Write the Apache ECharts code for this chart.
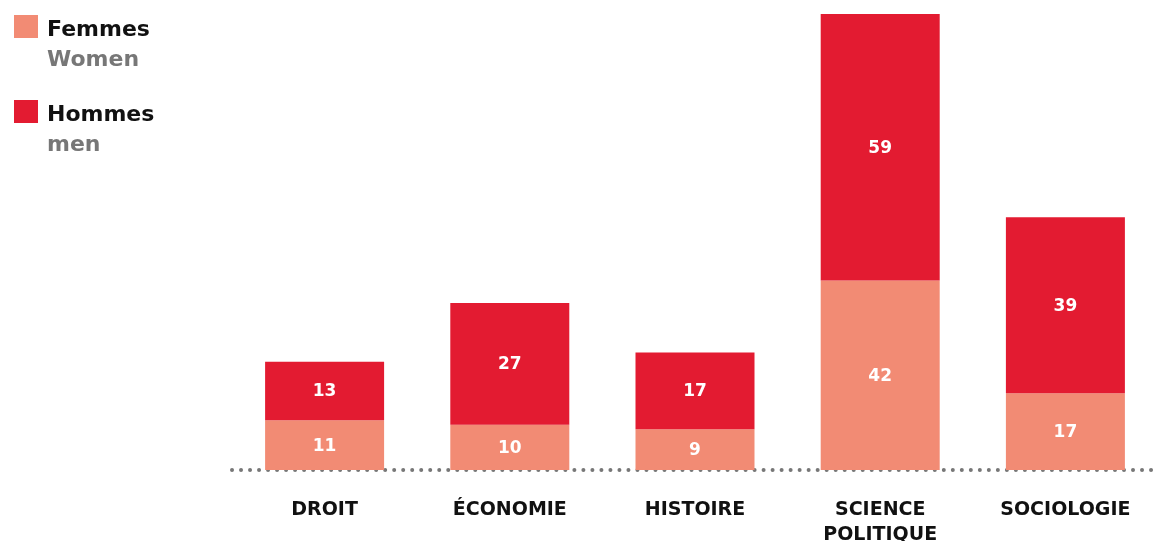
<!DOCTYPE html>
<html>
<head>
<meta charset="utf-8">
<script src="https://cdn.jsdelivr.net/npm/echarts@6/dist/echarts.min.js"></script>
<style>
  html, body { margin: 0; padding: 0; background: #fff; }
  #BarChartDom { width: 1154px; height: 541px; }
</style>
</head>
<body>
<div id="BarChartDom"></div>
<script>
const categories = ['DROIT', 'ÉCONOMIE', 'HISTOIRE', 'SCIENCE\nPOLITIQUE', 'SOCIOLOGIE'];
const femmes = [11, 10, 9, 42, 17];
const hommes = [13, 27, 17, 59, 39];
const legendNames = ['Femmes', 'Hommes'];
const legendSubtitles = { Femmes: 'Women', Hommes: 'men' };

const font = '"DejaVu Sans", sans-serif';
const barLabel = {
  show: true,
  position: 'inside',
  offset: [0, 1],
  color: '#fff',
  fontFamily: font,
  fontWeight: 'bold',
  fontSize: 17
};

const option = {
  animation: false,
  legend: {
    orient: 'vertical',
    left: 9,
    top: -13.5,
    itemWidth: 24,
    itemHeight: 23,
    itemGap: 5,
    icon: 'rect',
    data: legendNames,
    formatter: (name) => '{e| }\n{a|' + name + '}\n{b|' + legendSubtitles[name] + '}',
    textStyle: {
      rich: {
        e: { lineHeight: 38, fontSize: 10 },
        a: { fontFamily: font, fontWeight: 'bold', fontSize: 22, color: '#111', lineHeight: 30, padding: [0, 0, 0, 4] },
        b: { fontFamily: font, fontWeight: 'bold', fontSize: 22, color: '#777', lineHeight: 30, padding: [0, 0, 0, 4] }
      }
    }
  },
  grid: {
    left: 232,
    right: -4,
    top: 14,
    bottom: 71,
    outerBoundsMode: 'none'
  },
  xAxis: {
    type: 'category',
    data: categories,
    axisTick: { show: false },
    axisLine: {
      lineStyle: { color: '#777', width: 4, type: [0.01, 9], cap: 'round' }
    },
    axisLabel: {
      margin: 28,
      interval: 0,
      color: '#111',
      fontFamily: font,
      fontWeight: 'bold',
      fontSize: 19,
      lineHeight: 25
    }
  },
  yAxis: {
    type: 'value',
    min: 0,
    max: 101,
    show: false,
    splitLine: { show: false }
  },
  series: [
    {
      name: 'Femmes',
      type: 'bar',
      stack: 'Total',
      barWidth: 119,
      itemStyle: { color: '#F28B74' },
      label: barLabel,
      data: femmes
    },
    {
      name: 'Hommes',
      type: 'bar',
      stack: 'Total',
      barWidth: 119,
      itemStyle: { color: '#E31B31' },
      label: barLabel,
      data: hommes
    }
  ]
};

const myChart = echarts.init(document.getElementById('BarChartDom'));
myChart.setOption(option);
</script>
</body>
</html>
